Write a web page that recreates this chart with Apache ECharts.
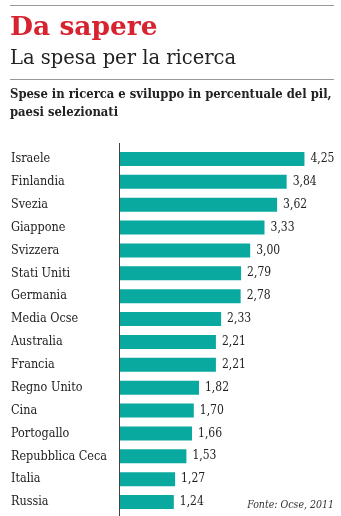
<!DOCTYPE html>
<html>
<head>
<meta charset="utf-8">
<script src="https://cdn.jsdelivr.net/npm/echarts@6/dist/echarts.min.js"></script>
<style>
  html, body { margin: 0; padding: 0; background: #fff; }
  #chart { width: 341px; height: 516px; }
</style>
</head>
<body>
<div id="chart"></div>
<script>
// R&S spending as % of GDP, selected countries (OECD, 2011)
const paesi = ["Israele", "Finlandia", "Svezia", "Giappone", "Svizzera", "Stati Uniti", "Germania",
  "Media Ocse", "Australia", "Francia", "Regno Unito", "Cina", "Portogallo", "Repubblica Ceca",
  "Italia", "Russia"];
const spesa = [4.25, 3.84, 3.62, 3.33, 3.00, 2.79, 2.78, 2.33, 2.21, 2.21, 1.82, 1.70, 1.66, 1.53, 1.27, 1.24];

const serif = "'DejaVu Serif', 'Liberation Serif', serif";
const serifCond = "'DejaVu Serif Condensed', 'DejaVu Serif', serif";
const chart = echarts.init(document.getElementById('chart'), null, { renderer: 'canvas' });

chart.setOption({
  animation: false,
  backgroundColor: '#ffffff',
  title: [
    { text: 'Da sapere', left: 10, top: 15, padding: 0,
      textStyle: { fontFamily: serif, fontSize: 26.5, fontWeight: 'bold', color: '#d7232f' } },
    { text: 'La spesa per la ricerca', left: 10, top: 49, padding: 0,
      textStyle: { fontFamily: serif, fontSize: 19.5, fontWeight: 'normal', color: '#222' } },
    { text: 'Spese in ricerca e sviluppo in percentuale del pil,\npaesi selezionati', left: 10, top: 86, padding: 0,
      textStyle: { fontFamily: serifCond, fontSize: 12.9, fontWeight: 'bold', color: '#222', lineHeight: 18 } },
    { text: 'Fonte: Ocse, 2011', right: 7, top: 500, padding: 0,
      textStyle: { fontFamily: serifCond, fontSize: 10.5, fontStyle: 'italic', fontWeight: 'normal', color: '#333' } }
  ],
  graphic: [
    { type: 'line', shape: { x1: 10, y1: 5.5, x2: 334, y2: 5.5 }, style: { stroke: '#999', lineWidth: 1 } },
    { type: 'line', shape: { x1: 10, y1: 79.5, x2: 334, y2: 79.5 }, style: { stroke: '#999', lineWidth: 1 } },
    // vertical baseline of the bars
    { type: 'line', shape: { x1: 119.5, y1: 143, x2: 119.5, y2: 516 }, style: { stroke: '#444', lineWidth: 1 } }
  ],
  grid: { left: 120, top: 147.5, width: 217, height: 366, containLabel: false },
  xAxis: {
    type: 'value', min: 0, max: 5,
    show: false
  },
  yAxis: {
    type: 'category', data: paesi, inverse: true,
    axisLine: { show: false },
    axisTick: { show: false },
    axisLabel: {
      align: 'left', margin: 109,
      fontFamily: serifCond, fontSize: 12.5, color: '#222'
    }
  },
  series: [{
    type: 'bar', data: spesa, barWidth: 14,
    itemStyle: { color: '#09a99f' },
    label: {
      show: true, position: 'right', distance: 6,
      fontFamily: serifCond, fontSize: 12, color: '#222',
      formatter: p => p.value.toFixed(2).replace('.', ',')
    }
  }]
});
</script>
</body>
</html>
